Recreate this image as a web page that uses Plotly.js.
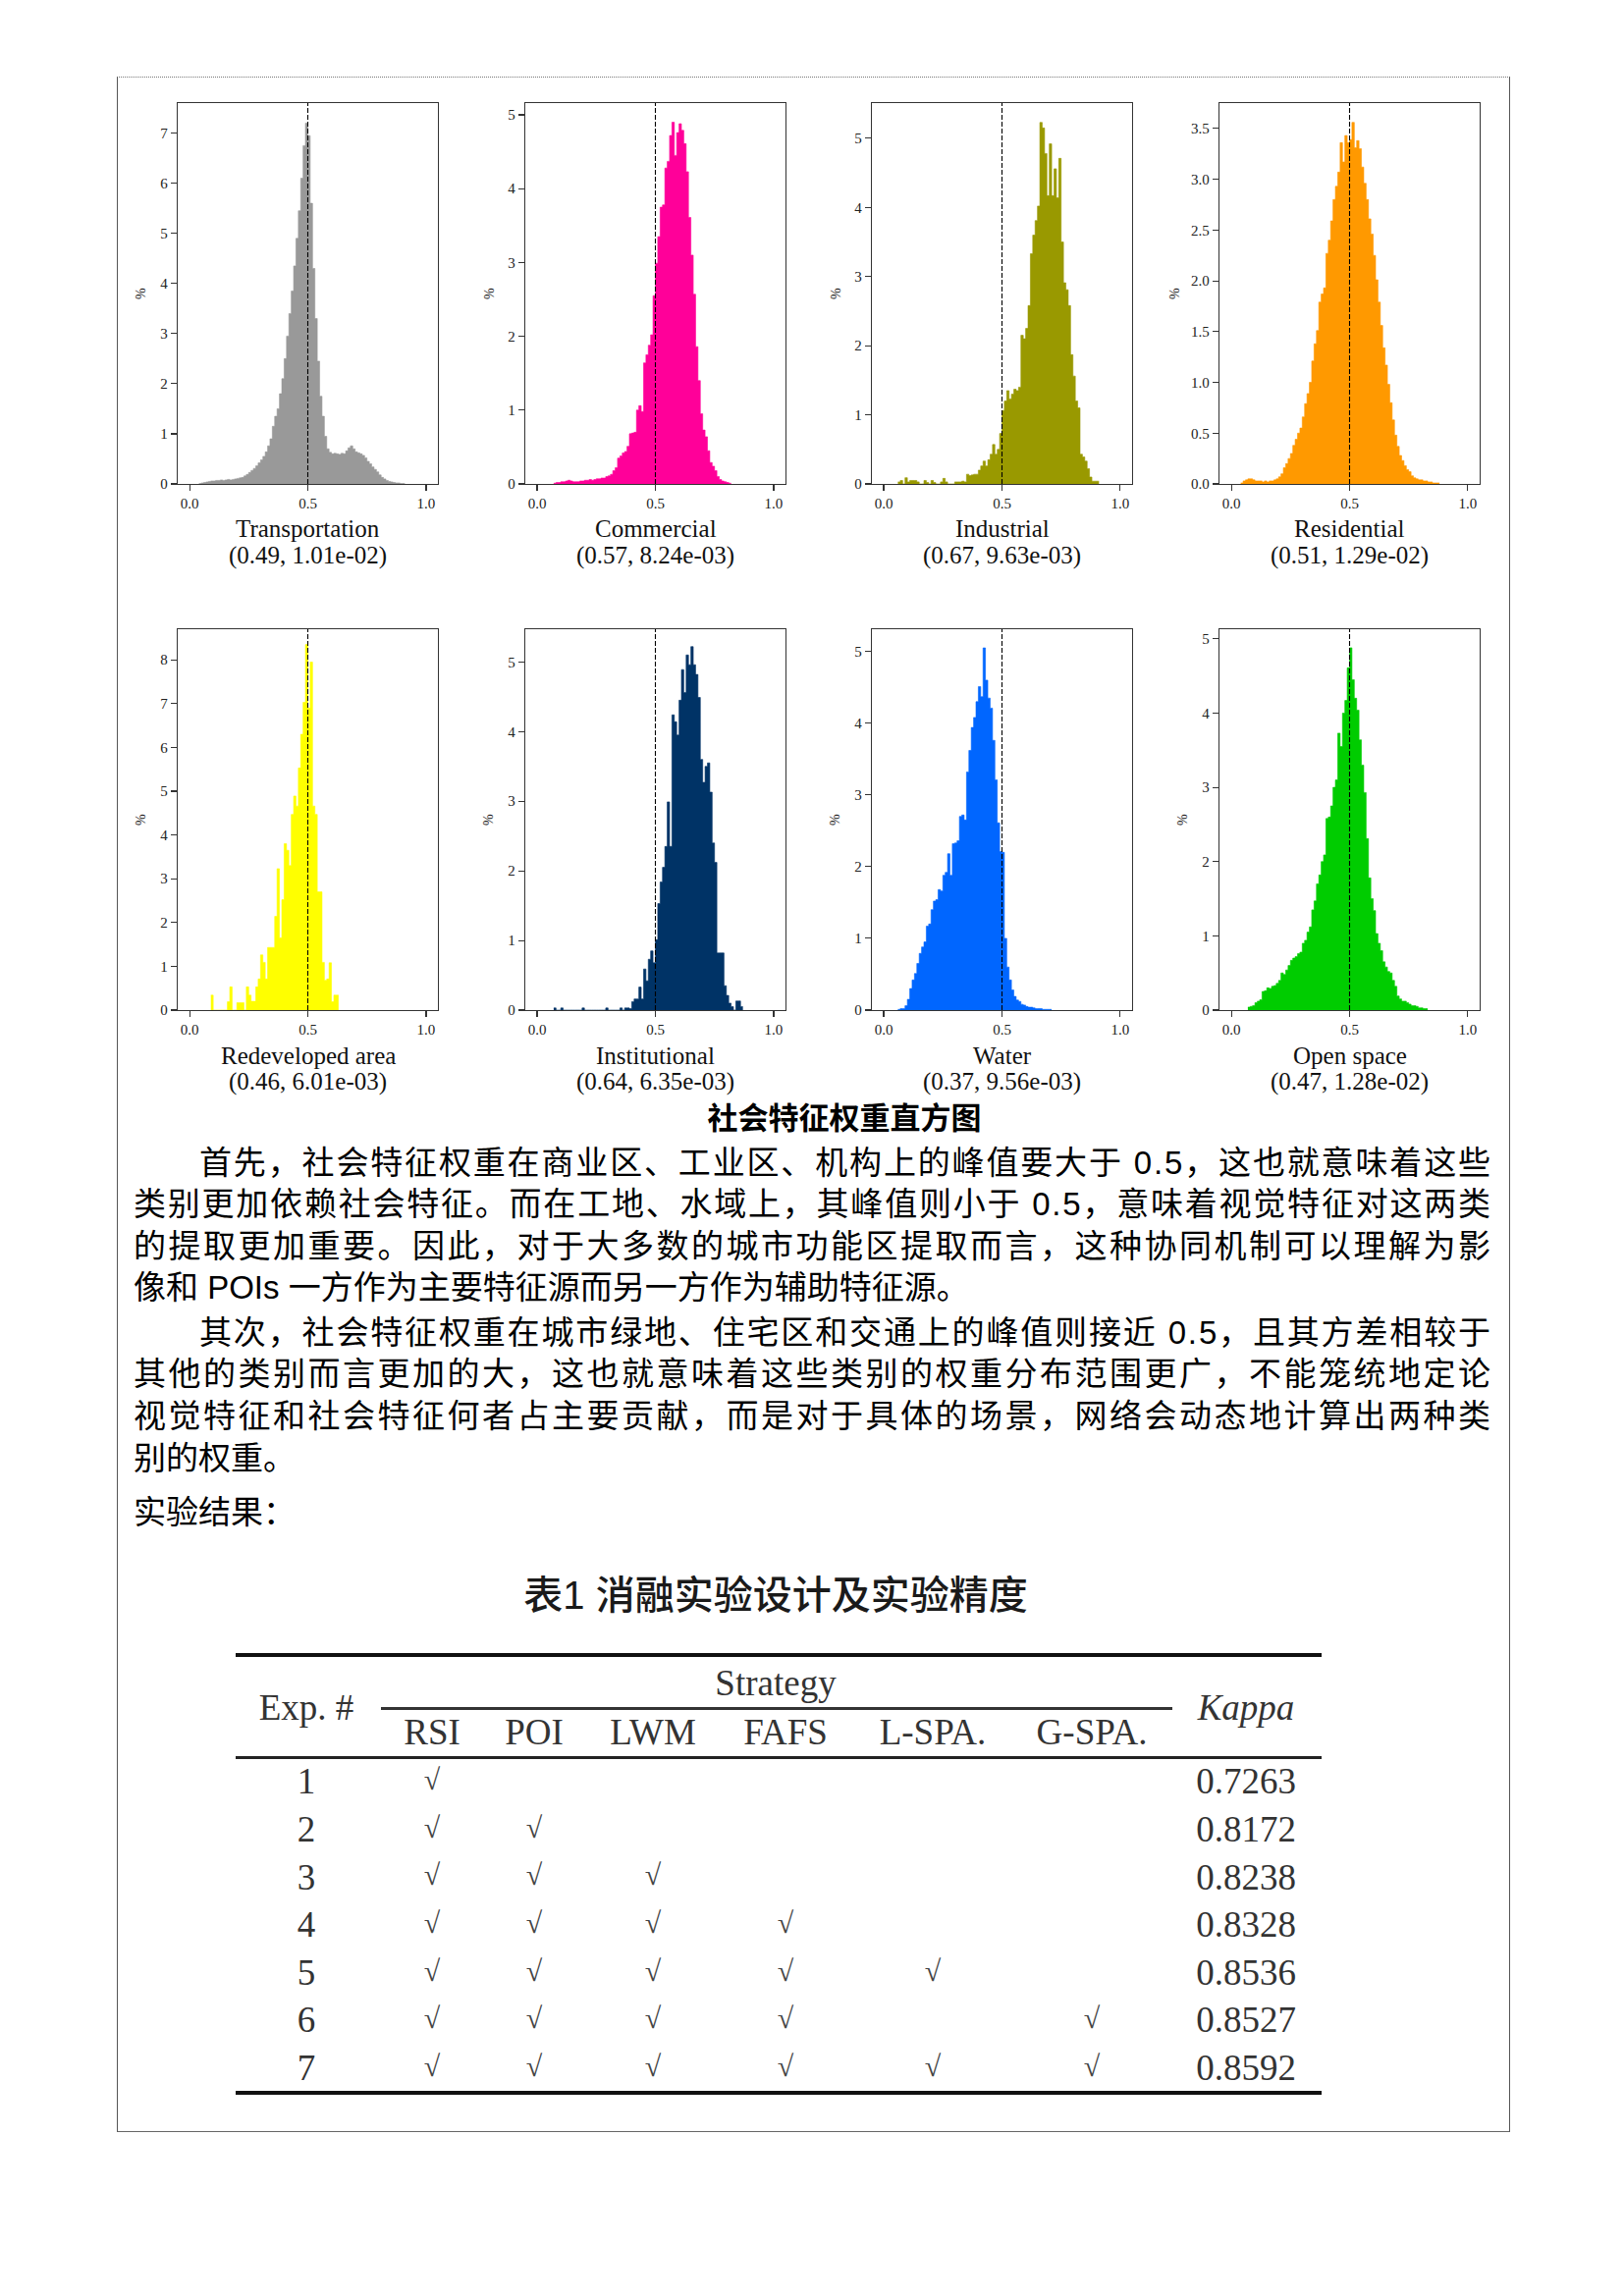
<!DOCTYPE html>
<html lang="zh-CN">
<head>
<meta charset="utf-8">
<script src="https://cdn.plot.ly/plotly-3.0.1.min.js"></script>
<style>
html,body{margin:0;padding:0;background:#fff;}
#page{position:relative;width:1654px;height:2339px;overflow:hidden;background:#fff;}
#chart{position:absolute;left:0;top:0;width:1654px;height:1130px;}
.rule{position:absolute;background:#555;}
.t{position:absolute;white-space:nowrap;line-height:1;}
.cjk{font-family:"Liberation Sans","Noto Sans CJK SC",sans-serif;color:#000;}
.tab{font-family:"Liberation Serif",serif;color:#333;}
</style>
</head>
<body>
<div id="page">
<div id="chart"></div>
</div>
<script>
// ---------------- DATA ----------------
const binWidth = 0.01;
const names = ['Transportation','Commercial','Industrial','Residential','Redeveloped area','Institutional','Water','Open space'];
const peakMeans = [0.49, 0.57, 0.67, 0.51, 0.46, 0.64, 0.37, 0.47];
const variances = ['1.01e-02','8.24e-03','9.63e-03','1.29e-02','6.01e-03','6.35e-03','9.56e-03','1.28e-02'];
const colors = ['#999999','#FF0099','#999900','#FF9900','#FFFF00','#003366','#0066FF','#00CC00'];

const transportStart = 0.04;
const transportPct = [0.01,0.02,0.03,0.04,0.05,0.06,0.06,0.07,0.07,0.08,0.07,0.08,0.09,0.08,0.09,0.10,0.11,0.12,0.13,0.16,
 0.19,0.23,0.27,0.31,0.36,0.42,0.48,0.55,0.64,0.76,0.90,1.15,1.35,1.50,1.80,2.10,2.50,2.95,3.40,3.85,
 4.35,4.90,5.45,6.10,6.75,7.20,6.95,5.60,4.30,3.30,2.45,1.75,1.35,0.95,0.70,0.63,0.60,0.61,0.60,0.59,
 0.61,0.60,0.66,0.72,0.76,0.70,0.64,0.62,0.60,0.57,0.52,0.45,0.40,0.34,0.29,0.24,0.18,0.13,0.10,0.07,
 0.05,0.04,0.03,0.02,0.02,0.01,0.01];

const commercialStart = 0.07;
const commercialPct = [0.01,0.02,0.02,0.03,0.03,0.04,0.05,0.04,0.03,0.03,0.03,0.04,0.04,0.05,0.05,0.06,0.05,0.06,0.07,0.07,
 0.08,0.08,0.10,0.11,0.13,0.18,0.22,0.35,0.38,0.42,0.44,0.51,0.68,0.69,0.70,1.00,1.06,0.98,1.64,1.75,
 1.88,2.02,2.55,2.99,3.35,3.75,3.78,4.28,4.37,4.72,4.90,4.45,4.76,4.88,4.79,4.61,4.23,3.61,3.10,2.57,
 1.86,1.40,0.95,0.73,0.64,0.45,0.29,0.24,0.18,0.10,0.06,0.04,0.03,0.02,0.01];

const industrialStart = 0.06;
const industrialPct = [0.03,0.05,0,0.09,0.03,0.05,0.05,0.05,0.03,0,0,0.05,0.02,0,0.05,0.02,0,0,0.03,0.08,
 0.03,0,0,0,0.03,0.03,0.03,0.04,0.03,0.14,0.12,0.13,0.14,0.14,0.20,0.26,0.33,0.26,0.35,0.43,
 0.57,0.43,0.50,0.73,1.06,1.20,1.35,1.23,1.30,1.37,1.35,1.40,2.15,2.10,2.25,2.58,3.33,3.60,3.81,4.02,
 5.23,5.15,4.78,4.17,4.92,4.17,4.56,4.14,4.71,3.50,2.91,2.81,2.58,1.87,1.56,1.20,1.10,0.43,0.39,0.33,
 0.22,0.10,0.04,0.04,0.04];

const residentialStart = 0.04;
const residentialPct = [0.01,0.03,0.04,0.05,0.05,0.04,0.03,0.03,0.03,0.02,0.03,0.02,0.03,0.03,0.04,0.05,0.07,0.10,0.16,0.20,
 0.25,0.30,0.38,0.44,0.50,0.55,0.66,0.79,0.89,1.00,1.21,1.38,1.51,1.79,1.87,1.93,2.27,2.40,2.59,2.80,
 2.93,3.07,3.36,3.17,3.43,3.36,3.39,3.56,3.31,3.38,3.30,3.12,2.96,2.80,2.61,2.46,2.25,2.01,1.79,1.56,
 1.34,1.17,0.98,0.80,0.63,0.48,0.37,0.28,0.23,0.18,0.14,0.12,0.08,0.06,0.05,0.04,0.04,0.03,0.03,0.02,
 0.02,0.01,0.01,0.01];

const redevelopedStart = 0.09;
const redevelopedPct = [0.34,0,0,0,0,0,0,0.19,0.53,0,0,0.17,0.17,0.17,0,0.53,0.34,0.20,0.20,0.53,
 0.71,1.26,1.09,0.71,1.43,1.43,1.43,2.14,3.23,1.65,2.52,3.80,3.65,3.30,4.47,4.89,4.66,5.53,6.30,7.03,
 8.35,6.90,7.95,4.66,4.47,2.70,2.70,1.09,0.68,0.71,1.08,0.19,0.34,0.34];

const institutionalStart = 0.07;
const institutionalPct = [0.03,0,0,0.03,0,0,0,0,0,0,0,0,0.03,0,0,0,0,0,0,0,
 0,0,0.03,0,0,0,0,0,0.03,0,0.03,0.03,0.02,0.12,0.16,0.16,0.33,0.16,0.59,0.42,
 0.73,0.85,0.68,1.01,1.53,1.84,2.05,2.35,2.99,2.35,4.24,4.14,3.95,4.45,4.89,4.56,5.10,4.96,5.22,4.96,
 4.82,4.49,3.60,3.27,3.50,3.55,3.13,2.40,2.12,0.82,0.82,0.82,0.35,0.21,0.10,0.05,0,0.13,0.13,0.05];

const waterStart = 0.06;
const waterPct = [0.01,0.02,0.02,0.06,0.15,0.30,0.42,0.51,0.65,0.79,0.88,0.95,1.17,1.20,1.40,1.52,1.54,1.68,1.66,1.88,
 1.92,2.18,1.88,2.32,2.33,2.36,2.70,2.72,2.65,3.32,3.62,3.94,4.08,4.30,4.51,4.37,5.05,4.60,4.35,4.21,
 3.76,3.21,2.61,2.21,2.20,1.00,0.60,0.42,0.28,0.19,0.14,0.12,0.08,0.07,0.05,0.04,0.04,0.03,0.02,0.02,
 0.02,0.01,0.01,0.01,0.01];

const openStart = 0.07;
const openPct = [0.04,0.05,0.06,0.10,0.12,0.14,0.25,0.26,0.30,0.29,0.32,0.33,0.36,0.40,0.50,0.48,0.54,0.60,0.67,0.70,
 0.72,0.76,0.78,0.90,0.94,1.05,1.12,1.35,1.47,1.70,1.82,2.00,2.09,2.58,2.60,2.75,3.00,3.10,3.73,3.55,
 4.00,4.17,4.61,4.88,4.45,4.20,4.04,3.64,3.30,2.93,2.31,1.78,1.50,1.34,1.03,0.90,0.80,0.65,0.58,0.52,
 0.50,0.40,0.32,0.19,0.15,0.12,0.12,0.10,0.08,0.06,0.06,0.05,0.03,0.03,0.02,0.02];

const seriesStarts = [transportStart, commercialStart, industrialStart, residentialStart, redevelopedStart, institutionalStart, waterStart, openStart];
const seriesPcts = [transportPct, commercialPct, industrialPct, residentialPct, redevelopedPct, institutionalPct, waterPct, openPct];

// Table data
const tableTitle = '表1 消融实验设计及实验精度';
const expIds = [1,2,3,4,5,6,7];
const strategies = ['RSI','POI','LWM','FAFS','L-SPA.','G-SPA.'];
const used = [[1,0,0,0,0,0],[1,1,0,0,0,0],[1,1,1,0,0,0],[1,1,1,1,0,0],[1,1,1,1,1,0],[1,1,1,1,0,1],[1,1,1,1,1,1]];
const kappa = [0.7263,0.8172,0.8238,0.8328,0.8536,0.8527,0.8592];

// Text
const caption = '社会特征权重直方图';
const para1 = ['首先，社会特征权重在商业区、工业区、机构上的峰值要大于 0.5，这也就意味着这些',
 '类别更加依赖社会特征。而在工地、水域上，其峰值则小于 0.5，意味着视觉特征对这两类',
 '的提取更加重要。因此，对于大多数的城市功能区提取而言，这种协同机制可以理解为影',
 '像和 POIs 一方作为主要特征源而另一方作为辅助特征源。'];
const para2 = ['其次，社会特征权重在城市绿地、住宅区和交通上的峰值则接近 0.5，且其方差相较于',
 '其他的类别而言更加的大，这也就意味着这些类别的权重分布范围更广，不能笼统地定论',
 '视觉特征和社会特征何者占主要贡献，而是对于具体的场景，网络会动态地计算出两种类',
 '别的权重。'];
const resultLabel = '实验结果：';

// ---------------- LAYOUT ----------------
const W = 1654, H = 1130;
const lefts = [181, 535, 888, 1242];
const tops = [105, 641];
const plotW = 265, plotH = 388;
const yTops = [7.6, 5.16, 5.51, 3.75, 8.7, 5.47, 5.31, 5.13];
const yDticks = [1,1,1,0.5,1,1,1,1];
const pctOffsets = [38,37,37,46,38,38,38,38];

const traces = [], shapes = [], annotations = [];
const layout = {
  width: W, height: H, margin:{l:0,r:0,t:0,b:0},
  paper_bgcolor:'#fff', plot_bgcolor:'#fff', showlegend:false,
  font:{family:'Liberation Serif, serif', color:'#222'}
};
const tickFont = {family:'Liberation Serif, serif', size:15, color:'#222'};

for (let i = 0; i < 8; i++) {
  const col = i % 4, row = Math.floor(i / 4);
  const xid = i === 0 ? 'x' : 'x' + (i+1);
  const yid = i === 0 ? 'y' : 'y' + (i+1);
  const xkey = i === 0 ? 'xaxis' : 'xaxis' + (i+1);
  const ykey = i === 0 ? 'yaxis' : 'yaxis' + (i+1);
  const l = lefts[col], t = tops[row];
  const pct = seriesPcts[i];
  const xs = [], ys = [];
  for (let k = 0; k < pct.length; k++) { xs.push(+(seriesStarts[i] + k*binWidth).toFixed(4)); ys.push(pct[k]); }
  xs.push(+(seriesStarts[i] + pct.length*binWidth).toFixed(4)); ys.push(pct[pct.length-1]);
  traces.push({type:'scatter', mode:'lines', x:xs, y:ys, xaxis:xid, yaxis:yid,
    line:{shape:'hv', width:0.6, color:colors[i]}, fill:'tozeroy', fillcolor:colors[i], hoverinfo:'skip'});

  layout[xkey] = {domain:[l/W, (l+plotW)/W], anchor:yid, range:[-0.05,1.05], tick0:0, dtick:0.5, tickformat:'.1f',
    ticks:'outside', ticklen:6, tickwidth:1.1, tickcolor:'#333', showline:true, mirror:true, linecolor:'#333', linewidth:1.3,
    showgrid:false, zeroline:false, tickfont:tickFont, fixedrange:true};
  layout[ykey] = {domain:[1-(t+plotH)/H, 1-t/H], anchor:xid, range:[0, yTops[i]], tick0:0, dtick:yDticks[i],
    tickformat: yDticks[i] < 1 ? '.1f' : 'd',
    ticks:'outside', ticklen:6, tickwidth:1.1, tickcolor:'#333', showline:true, mirror:true, linecolor:'#333', linewidth:1.3,
    showgrid:false, zeroline:false, tickfont:tickFont, fixedrange:true};

  shapes.push({type:'line', xref:xid, yref:yid+' domain', x0:0.5, x1:0.5, y0:0, y1:1,
    line:{color:'#000', width:1.1, dash:'5px,2px'}, layer:'above'});

  annotations.push({xref:xid+' domain', yref:yid+' domain', x:-pctOffsets[i]/plotW, y:0.5, text:'%', textangle:-90,
    showarrow:false, xanchor:'center', yanchor:'middle', font:{family:'Liberation Serif, serif', size:14, color:'#222'}});
  annotations.push({xref:xid+' domain', yref:yid+' domain', x:0.5, y:-46/plotH, text:names[i],
    showarrow:false, xanchor:'center', yanchor:'middle', font:{family:'Liberation Serif, serif', size:25, color:'#111'}});
  annotations.push({xref:xid+' domain', yref:yid+' domain', x:0.5, y:-73/plotH,
    text:'(' + peakMeans[i].toFixed(2) + ', ' + variances[i] + ')',
    showarrow:false, xanchor:'center', yanchor:'middle', font:{family:'Liberation Serif, serif', size:25, color:'#111'}});
}
layout.shapes = shapes;
layout.annotations = annotations;

Plotly.newPlot('chart', traces, layout, {staticPlot:true, displayModeBar:false});

// ---------------- PAGE TEXT ----------------
const page = document.getElementById('page');
function rule(x, y, w, h, color) {
  const d = document.createElement('div');
  d.className = 'rule';
  d.style.left = x+'px'; d.style.top = y+'px'; d.style.width = w+'px'; d.style.height = h+'px';
  if (color) d.style.background = color;
  page.appendChild(d); return d;
}
function text(str, cx, cy, fs, cls, opts) {
  opts = opts || {};
  const d = document.createElement('div');
  d.className = 't ' + cls;
  d.textContent = str;
  d.style.fontSize = fs + 'px';
  if (opts.bold) d.style.fontWeight = 'bold';
  if (opts.italic) d.style.fontStyle = 'italic';
  if (opts.weight) d.style.fontWeight = opts.weight;
  if (opts.color) d.style.color = opts.color;
  page.appendChild(d);
  const r = d.getBoundingClientRect();
  const vc = opts.vc || 0.53;
  d.style.top = (cy - vc*fs) + 'px';
  if (opts.left !== undefined) {
    d.style.left = opts.left + 'px';
    if (opts.right !== undefined) {
      const n = [...str].length;
      const ls = (opts.right - opts.left - r.width) / (n - 1);
      d.style.letterSpacing = ls + 'px';
    }
  } else {
    d.style.left = (cx - r.width/2) + 'px';
  }
  return d;
}

// page frame
const frame = document.createElement('div');
frame.style.cssText = 'position:absolute;left:119px;top:78px;width:1417px;height:2092px;border-left:1.5px solid #555;border-right:1.5px solid #555;border-bottom:1.5px solid #666;border-top:1.5px dotted #777;box-sizing:content-box;';
page.appendChild(frame);

// caption + paragraphs
text(caption, 860, 1141, 31, 'cjk', {bold:true, vc:0.56});
const pFs = 33, lineL = 136, lineR = 1518, indentL = 203;
const p1Y = [1186, 1228, 1271, 1313];
const p2Y = [1359, 1401, 1444, 1487];
para1.forEach((s, k) => {
  const last = k === para1.length - 1;
  text(s, 0, p1Y[k], pFs, 'cjk', {left: k === 0 ? indentL : lineL, right: last ? undefined : lineR, vc:0.56});
});
para2.forEach((s, k) => {
  const last = k === para2.length - 1;
  text(s, 0, p2Y[k], pFs, 'cjk', {left: k === 0 ? indentL : lineL, right: last ? undefined : lineR, vc:0.56});
});
text(resultLabel, 0, 1542, pFs, 'cjk', {left: lineL, vc:0.56});

// ---------------- TABLE ----------------
text(tableTitle, 790, 1627, 40, 'cjk', {weight:500, color:'#1a1a1a', vc:0.56});
const tabL = 240, tabR = 1346;
rule(tabL, 1684, tabR - tabL, 4, '#111');
rule(388, 1739, 806, 2.5, '#333');
rule(tabL, 1789, tabR - tabL, 3, '#222');
rule(tabL, 2130, tabR - tabL, 4, '#111');

const expX = 312, kappaX = 1269;
const colX = [440, 544, 665, 800, 950, 1112];
const row0 = 1816, rowPitch = 48.6;
text('Strategy', 790, 1716, 37, 'tab');
text('Exp. #', expX, 1741, 37, 'tab');
text('Kappa', kappaX, 1741, 37, 'tab', {italic:true});
strategies.forEach((s, j) => text(s, colX[j], 1766, 37, 'tab'));
expIds.forEach((e, r) => {
  const cy = row0 + r*rowPitch;
  text(String(e), expX, cy, 37, 'tab');
  used[r].forEach((u, j) => { if (u) text('√', colX[j], cy - 2, 30, 'tab', {color:'#444'}); });
  text(kappa[r].toFixed(4), kappaX, cy, 37, 'tab');
});
</script>
</body>
</html>
